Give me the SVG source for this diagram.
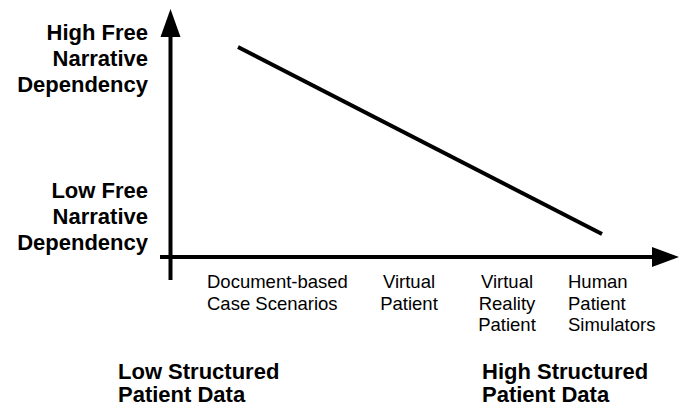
<svg xmlns="http://www.w3.org/2000/svg" width="683" height="408" viewBox="0 0 683 408">
<style>
.b{font-family:"Liberation Sans",Arial,sans-serif;font-weight:bold;font-size:22px;fill:#000}
.r{font-family:"Liberation Sans",Arial,sans-serif;font-size:18.5px;fill:#000}
.ax{stroke:#000;stroke-width:4;fill:none}
</style>
<rect width="683" height="408" fill="#fff"/>
<g id="connectors">
<line class="ax" x1="170.5" y1="280" x2="170.5" y2="37"/>
<polygon points="170.5,9 160.5,37 180.5,37" fill="#000"/>
<line class="ax" x1="160" y1="257" x2="652" y2="257"/>
<polygon points="679,257 652,247 652,267" fill="#000"/>
<line class="ax" x1="238" y1="47" x2="602" y2="234"/>
</g>
<g id="y-high">
<text class="b" text-anchor="end"><tspan x="148" y="40">High Free</tspan><tspan x="148" y="66">Narrative</tspan><tspan x="148" y="92">Dependency</tspan></text>
</g>
<g id="y-low">
<text class="b" text-anchor="end"><tspan x="148" y="198">Low Free</tspan><tspan x="148" y="224">Narrative</tspan><tspan x="148" y="250">Dependency</tspan></text>
</g>
<g id="doc">
<text class="r"><tspan x="207" y="288">Document-based</tspan><tspan x="207" y="309.5">Case Scenarios</tspan></text>
</g>
<g id="vp">
<text class="r" text-anchor="middle"><tspan x="409" y="288">Virtual</tspan><tspan x="409" y="309.5">Patient</tspan></text>
</g>
<g id="vrp">
<text class="r" text-anchor="middle"><tspan x="507" y="288">Virtual</tspan><tspan x="507" y="309.5">Reality</tspan><tspan x="507" y="331">Patient</tspan></text>
</g>
<g id="hps">
<text class="r"><tspan x="568" y="288">Human</tspan><tspan x="568" y="309.5">Patient</tspan><tspan x="568" y="331">Simulators</tspan></text>
</g>
<g id="x-low">
<text class="b"><tspan x="118" y="379">Low Structured</tspan><tspan x="118" y="402">Patient Data</tspan></text>
</g>
<g id="x-high">
<text class="b"><tspan x="482" y="379">High Structured</tspan><tspan x="482" y="402">Patient Data</tspan></text>
</g>
</svg>
